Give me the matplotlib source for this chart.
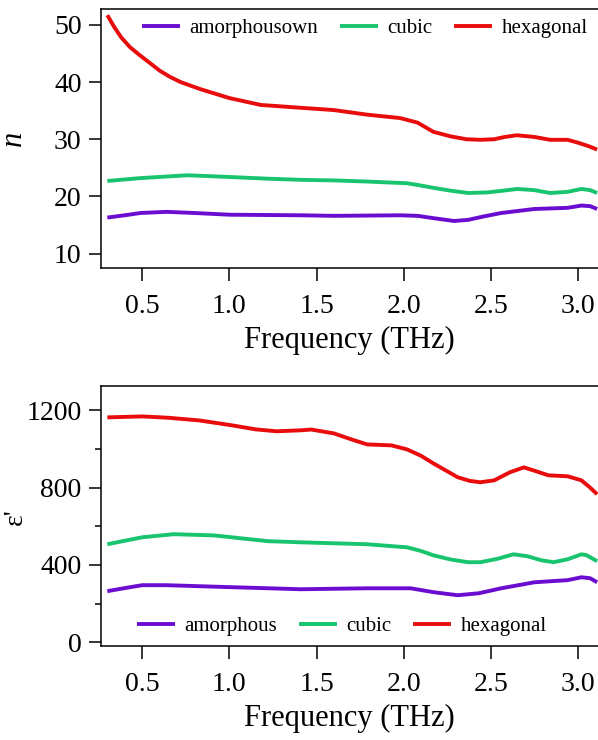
import matplotlib
matplotlib.use("Agg")
import matplotlib.pyplot as plt
from matplotlib.ticker import MultipleLocator, FormatStrFormatter

plt.rcParams['font.family'] = ['Liberation Serif', 'DejaVu Serif']

# refractive index n
n_amor_x = [0.30, 0.40, 0.49, 0.64, 0.80, 1.00, 1.41, 1.60, 1.98, 2.08, 2.17, 2.29, 2.37, 2.46, 2.56, 2.75, 2.94, 3.02, 3.07, 3.11]
n_amor = [16.3, 16.7, 17.1, 17.3, 17.1, 16.8, 16.7, 16.6, 16.7, 16.6, 16.2, 15.7, 15.9, 16.5, 17.1, 17.8, 18.0, 18.4, 18.3, 17.8]
n_cub_x = [0.30, 0.49, 0.76, 1.00, 1.22, 1.41, 1.60, 1.79, 2.02, 2.10, 2.17, 2.27, 2.37, 2.48, 2.57, 2.65, 2.75, 2.84, 2.94, 3.02, 3.07, 3.11]
n_cub = [22.7, 23.2, 23.7, 23.4, 23.1, 22.9, 22.8, 22.6, 22.3, 21.9, 21.5, 21.0, 20.6, 20.7, 21.0, 21.3, 21.1, 20.6, 20.8, 21.3, 21.1, 20.6]
n_hex_x = [0.30, 0.34, 0.38, 0.43, 0.49, 0.55, 0.60, 0.66, 0.72, 0.83, 1.00, 1.18, 1.41, 1.60, 1.79, 1.98, 2.08, 2.17, 2.27, 2.36, 2.44, 2.52, 2.58, 2.65, 2.75, 2.84, 2.94, 3.00, 3.06, 3.11]
n_hex = [51.7, 49.6, 47.8, 46.1, 44.6, 43.2, 42.0, 40.9, 40.0, 38.8, 37.2, 36.0, 35.5, 35.1, 34.3, 33.7, 32.9, 31.3, 30.5, 30.0, 29.9, 30.0, 30.4, 30.7, 30.4, 29.9, 29.9, 29.4, 28.8, 28.2]

# real permittivity eps'
e_amor_x = [0.30, 0.40, 0.50, 0.64, 1.00, 1.41, 1.79, 2.04, 2.17, 2.31, 2.43, 2.56, 2.75, 2.94, 3.02, 3.07, 3.11]
e_amor = [264, 280, 295, 295, 285, 274, 279, 279, 259, 243, 253, 279, 310, 321, 336, 331, 310]
e_cub_x = [0.30, 0.50, 0.68, 0.91, 1.22, 1.41, 1.60, 1.79, 2.02, 2.10, 2.17, 2.27, 2.37, 2.44, 2.54, 2.63, 2.71, 2.79, 2.86, 2.94, 3.02, 3.05, 3.11]
e_cub = [507, 543, 559, 553, 523, 517, 512, 507, 491, 472, 450, 428, 414, 414, 432, 455, 445, 424, 414, 429, 455, 450, 419]
e_hex_x = [0.30, 0.50, 0.65, 0.83, 1.02, 1.15, 1.27, 1.41, 1.47, 1.60, 1.70, 1.79, 1.93, 2.02, 2.10, 2.17, 2.24, 2.31, 2.38, 2.44, 2.52, 2.61, 2.69, 2.76, 2.83, 2.94, 3.02, 3.07, 3.11]
e_hex = [1164, 1169, 1162, 1148, 1122, 1102, 1092, 1097, 1101, 1081, 1050, 1024, 1019, 998, 965, 926, 890, 854, 835, 828, 838, 880, 905, 885, 864, 859, 838, 800, 766]

purple = '#6a0dd0'
green = '#19c46e'
red = '#e80c0c'
lw = 2.8

fig = plt.figure(figsize=(5.98, 7.4), dpi=100)
ax1 = fig.add_axes([0.169, 0.638, 0.831, 0.350])
ax2 = fig.add_axes([0.169, 0.127, 0.831, 0.351])

style = dict(lw=lw, solid_joinstyle='round', solid_capstyle='butt')
leg = dict(ncol=3, frameon=False, fontsize=15, handlelength=1.83,
           columnspacing=1.05, handletextpad=0.45)

ax1.plot(n_amor_x, n_amor, color=purple, label='amorphousown', **style)
ax1.plot(n_cub_x, n_cub, color=green, label='cubic', **style)
ax1.plot(n_hex_x, n_hex, color=red, label='hexagonal', **style)
ax1.set_ylim(7.5, 52.8)
ax1.yaxis.set_major_locator(MultipleLocator(10))
ax1.set_ylabel('n', fontsize=22, fontstyle='italic')
ax1.yaxis.set_label_coords(-0.147, 0.5)
ax1.legend(loc='upper left', bbox_to_anchor=(0.044, 1.035), **leg)

ax2.plot(e_amor_x, e_amor, color=purple, label='amorphous', **style)
ax2.plot(e_cub_x, e_cub, color=green, label='cubic', **style)
ax2.plot(e_hex_x, e_hex, color=red, label='hexagonal', **style)
ax2.set_ylim(-20, 1325)
ax2.yaxis.set_major_locator(MultipleLocator(400))
ax2.yaxis.set_minor_locator(MultipleLocator(200))
ax2.set_ylabel("ε'", fontsize=20)
ax2.yaxis.set_label_coords(-0.147, 0.5)
ax2.legend(loc='lower left', bbox_to_anchor=(0.034, -0.035), **leg)

for ax in (ax1, ax2):
    ax.set_xlim(0.264, 3.115)
    ax.xaxis.set_major_locator(MultipleLocator(0.5))
    ax.xaxis.set_major_formatter(FormatStrFormatter('%.1f'))
    ax.set_xlabel('Frequency (THz)', fontsize=22, labelpad=5)
    ax.spines['right'].set_visible(False)
    for s in ax.spines.values():
        s.set_linewidth(1.1)
    ax.tick_params(which='major', direction='out', length=9, width=1.1, labelsize=20, pad=5)
    ax.tick_params(axis='x', which='major', pad=10)
    ax.tick_params(which='minor', direction='out', length=4.5, width=1.1)

fig.savefig('out.png', dpi=100)
